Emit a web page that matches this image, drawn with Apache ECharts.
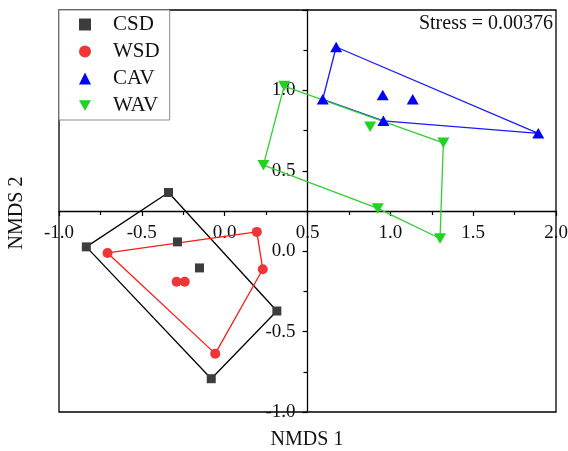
<!DOCTYPE html>
<html>
<head>
<meta charset="utf-8">
<script src="https://cdn.jsdelivr.net/npm/echarts@6/dist/echarts.min.js"></script>
<style>html,body{margin:0;padding:0;background:#fff}#chart{width:568px;height:451px}</style>
</head>
<body>
<div id="chart"></div>
<script>
// ---- data ----
const groupNames = ['CSD', 'WSD', 'CAV', 'WAV'];
const csdX = [-0.339, -0.835, -0.285, -0.152, 0.315, -0.081];
const csdY = [0.365, 0.027, 0.058, -0.104, -0.372, -0.793];
const csdHull = [0, 4, 5, 1];
const wsdX = [-0.707, 0.194, 0.230, -0.057, -0.290, -0.241];
const wsdY = [-0.011, 0.120, -0.112, -0.637, -0.190, -0.190];
const wsdHull = [0, 1, 2, 3];
const cavX = [0.673, 0.592, 0.954, 1.135, 0.958, 1.893];
const cavY = [1.270, 0.945, 0.971, 0.945, 0.811, 0.733];
const cavHull = [0, 5, 4, 1];
const wavX = [0.359, 0.234, 0.878, 1.320, 0.924, 1.300];
const wavY = [1.027, 0.535, 0.774, 0.674, 0.266, 0.079];
const wavHull = [0, 3, 5, 4, 1];
const xTicks = [-1.0, -0.5, 0.0, 0.5, 1.0, 1.5, 2.0];
const yTicks = [-1.0, -0.5, 0.0, 0.5, 1.0, 1.5];
const xCross = 0.5;   // where the vertical axis crosses
const yCross = 0.25;  // where the horizontal axis crosses
const stressText = 'Stress = 0.00376';
const xTitle = 'NMDS 1';
const yTitle = 'NMDS 2';

const FONT = 'Liberation Serif, Times New Roman, serif';

function pts(xs, ys) { return xs.map((x, i) => [x, ys[i]]); }
function hull(xs, ys, idx) {
  const p = idx.map(i => [xs[i], ys[i]]);
  p.push([xs[idx[0]], ys[idx[0]]]);
  return p;
}

const G = { left: 59, top: 10, width: 497, height: 402 };
const xMin = xTicks[0], xMax = xTicks[xTicks.length - 1];
const yMin = yTicks[0], yMax = yTicks[yTicks.length - 1];
// offsets moving the axes inward to the crossing values
const xAxisOffset = -G.height * (yCross - yMin) / (yMax - yMin);
const yAxisOffset = -G.width * (xCross - xMin) / (xMax - xMin);

const groups = [
  { name: groupNames[0], x: csdX, y: csdY, h: csdHull, symbol: 'rect', size: 9, rot: 0, mc: '#3d3d3d', lc: '#000000' },
  { name: groupNames[1], x: wsdX, y: wsdY, h: wsdHull, symbol: 'circle', size: 10, rot: 0, mc: '#ef3535', lc: '#ff1a1a' },
  { name: groupNames[2], x: cavX, y: cavY, h: cavHull, symbol: 'triangle', size: [12, 10.5], rot: 0, mc: '#0000ff', lc: '#1a1aff' },
  { name: groupNames[3], x: wavX, y: wavY, h: wavHull, symbol: 'triangle', size: [12, 10.5], rot: 180, mc: '#1fd31f', lc: '#33cc33' }
];

const series = [];
groups.forEach(g => {
  series.push({
    name: g.name + ' hull', type: 'line', data: hull(g.x, g.y, g.h),
    symbol: 'none', lineStyle: { color: g.lc, width: 1.3 }, z: 2, silent: true, animation: false
  });
});
groups.forEach(g => {
  series.push({
    name: g.name, type: 'scatter', data: pts(g.x, g.y),
    symbol: g.symbol, symbolSize: g.size, symbolRotate: g.rot,
    itemStyle: { color: g.mc, opacity: 1 }, z: 3, animation: false
  });
});

const legendData = groupNames.map((n, i) => i === 3
  ? { name: n, icon: 'path://M0,0L12,0L6,10.4Z' }
  : { name: n });

const chart = echarts.init(document.getElementById('chart'), null, { renderer: 'canvas' });
const fmt = v => v.toFixed(1);
chart.setOption({
  animation: false,
  backgroundColor: '#ffffff',
  grid: { left: G.left, top: G.top, width: G.width, height: G.height, outerBoundsMode: 'none', containLabel: false,
          show: true, borderColor: '#000', borderWidth: 1.3, backgroundColor: 'transparent' },
  xAxis: [
    {
      type: 'value', min: xMin, max: xMax, interval: 0.5, position: 'bottom', offset: xAxisOffset,
      axisLine: { show: true, onZero: false, lineStyle: { color: '#000', width: 1.3 } },
      axisTick: { show: true, inside: false, length: 5, lineStyle: { color: '#000', width: 1.2 } },
      minorTick: { show: true, splitNumber: 2, length: 4, lineStyle: { color: '#000', width: 1.2 } },
      splitLine: { show: false },
      axisLabel: { formatter: fmt, margin: 13, fontFamily: FONT, fontSize: 19, color: '#111', showMinLabel: true, showMaxLabel: true }
    }
  ],
  yAxis: [
    {
      type: 'value', min: yMin, max: yMax, interval: 0.5, position: 'left', offset: yAxisOffset,
      axisLine: { show: true, onZero: false, lineStyle: { color: '#000', width: 1.3 } },
      axisTick: { show: true, inside: false, length: 5, lineStyle: { color: '#000', width: 1.2 } },
      minorTick: { show: true, splitNumber: 2, length: 4, lineStyle: { color: '#000', width: 1.2 } },
      splitLine: { show: false },
      axisLabel: { formatter: v => (v >= yMax ? '' : fmt(v)), margin: 12, fontFamily: FONT, fontSize: 19, color: '#111', showMinLabel: true, showMaxLabel: true }
    }
  ],
  legend: {
    data: legendData, orient: 'vertical', left: 59, top: 10,
    padding: [4, 10, 4, 20], itemGap: 6, itemWidth: 12, itemHeight: 12,
    backgroundColor: '#fff', borderColor: '#8a8a8a', borderWidth: 1, borderRadius: 0,
    textStyle: { fontFamily: FONT, fontSize: 21, color: '#111', padding: [0, 0, 0, 17] },
    selectedMode: false
  },
  graphic: [
    { type: 'text', x: 553, y: 24, z: 10, style: { text: stressText, fontFamily: FONT, fontSize: 20, fill: '#111', align: 'right', verticalAlign: 'middle' } },
    { type: 'text', x: 307, y: 440, z: 10, style: { text: xTitle, fontFamily: FONT, fontSize: 20, fill: '#111', align: 'center', verticalAlign: 'middle' } },
    { type: 'text', x: 17, y: 213, rotation: Math.PI / 2, z: 10, style: { text: yTitle, fontFamily: FONT, fontSize: 20, fill: '#111', align: 'center', verticalAlign: 'middle' } }
  ],
  series: series
});
</script>
</body>
</html>
